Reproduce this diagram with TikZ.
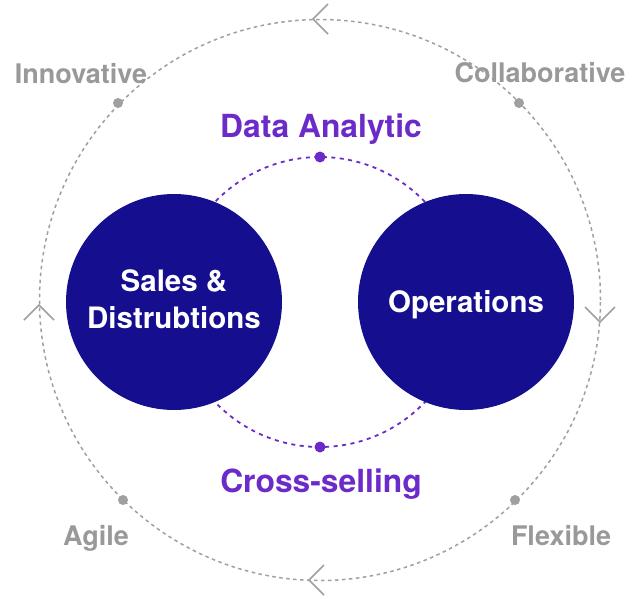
\documentclass[tikz,border=0pt]{standalone}
\usepackage{fontspec}
\setmainfont{TeX Gyre Heros}
\definecolor{navy}{HTML}{150F8F}
\definecolor{violet}{HTML}{6C2BC9}
\definecolor{greytext}{HTML}{999999}
\definecolor{greyline}{HTML}{A0A0A0}
\begin{document}
\begin{tikzpicture}[x=1pt,y=-1pt,
  outerring/.style={draw=greyline,line width=1.5pt,dash pattern=on 3.5pt off 3.5pt},
  innerring/.style={draw=violet,line width=1.8pt,dash pattern=on 4pt off 4.5pt},
  chevron/.style={draw=greyline,line width=1.5pt},
  greydot/.style={circle,fill=greyline,inner sep=0pt,minimum size=10pt},
  violetdot/.style={circle,fill=violet,inner sep=0pt,minimum size=11pt},
  bigcircle/.style={circle,fill=navy,text=white,minimum size=216pt,inner sep=0pt,align=center,
    font=\bfseries\fontsize{29.5}{37}\selectfont},
  greylabel/.style={text=greytext,anchor=base,inner sep=0pt,font=\bfseries\fontsize{27}{31}\selectfont},
  violetlabel/.style={text=violet,anchor=base,inner sep=0pt,font=\bfseries\fontsize{31.8}{37}\selectfont}]
\useasboundingbox[fill=white] (0,0) rectangle (640,598);
% outer ring
\node[outerring,circle,minimum size=561pt,inner sep=0pt] (outer) at (320,300) {};
% inner ring
\node[innerring,circle,minimum size=290pt,inner sep=0pt] (inner) at (320,302) {};
% big circles
\node[bigcircle,text depth=6pt] (sales) at (174,302) {Sales \&\\Distrubtions};
\node[bigcircle,text depth=0pt] (ops) at (466,302) {Operations};
% dots
\node[violetdot] (vtop) at (320,157) {};
\node[violetdot] (vbot) at (320,447) {};
\node[greydot] (g1) at (118,103) {};
\node[greydot] (g2) at (519,103) {};
\node[greydot] (g3) at (123,500) {};
\node[greydot] (g4) at (515,500) {};
% chevrons
\coordinate (t0) at (313,19); \coordinate (t1) at (328,4); \coordinate (t2) at (328,34);
\coordinate (r0) at (600,322); \coordinate (r1) at (585,307); \coordinate (r2) at (615,307);
\coordinate (b0) at (309,580); \coordinate (b1) at (324,565); \coordinate (b2) at (324,595);
\coordinate (l0) at (39,305); \coordinate (l1) at (24,320); \coordinate (l2) at (54,320);
\draw[chevron] (t1) -- (t0) -- (t2);
\draw[chevron] (r1) -- (r0) -- (r2);
\draw[chevron] (b1) -- (b0) -- (b2);
\draw[chevron] (l1) -- (l0) -- (l2);
% labels
\node[greylabel] (innov) at (81,83) {Innovative};
\node[greylabel] (collab) at (540,82) {Collaborative};
\node[greylabel] (agile) at (96,545) {Agile};
\node[greylabel] (flex) at (561,545) {Flexible};
\node[violetlabel] (data) at (321,137) {Data Analytic};
\node[violetlabel] (cross) at (321,492) {Cross-selling};
\end{tikzpicture}
\end{document}
